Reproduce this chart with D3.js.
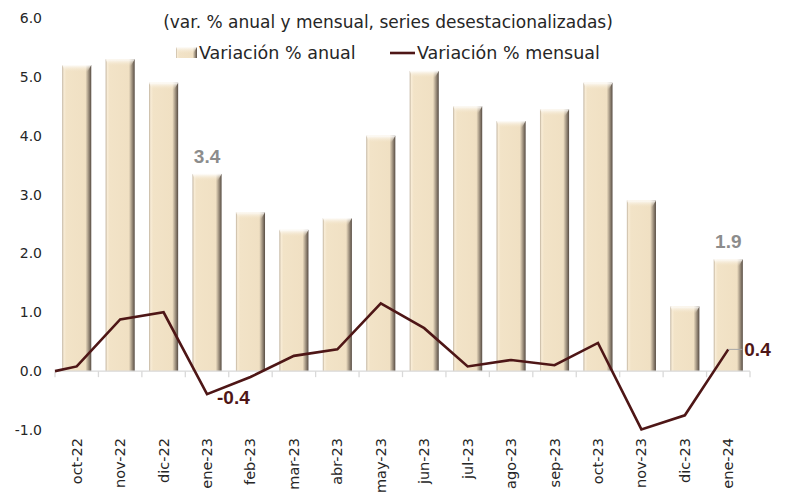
<!DOCTYPE html>
<html>
<head>
<meta charset="utf-8">
<script src="https://cdn.jsdelivr.net/npm/d3@7"></script>
<style>
  body { margin: 0; background: #fff; }
  text { font-family: "DejaVu Sans", sans-serif; }
</style>
</head>
<body>
<script>
// data
var meses = ["oct-22","nov-22","dic-22","ene-23","feb-23","mar-23","abr-23","may-23",
             "jun-23","jul-23","ago-23","sep-23","oct-23","nov-23","dic-23","ene-24"];
var anual = [5.2, 5.3, 4.9, 3.35, 2.7, 2.4, 2.6, 4.0, 5.1, 4.5, 4.25, 4.45, 4.9, 2.9, 1.1, 1.9];
var mensual = [0.08, 0.88, 1.0, -0.39, -0.1, 0.26, 0.37, 1.15, 0.73, 0.08, 0.19, 0.1, 0.48, -0.99, -0.75, 0.37];
var mensualInicio = 0.0;   // the line starts at the axis on the left
var yTicks = [-1, 0, 1, 2, 3, 4, 5, 6];
var titulo = "(var. % anual y mensual, series desestacionalizadas)";
var leyenda = ["Variación % anual", "Variación % mensual"];
var etiquetasAnual = ["ene-23", "ene-24"];
var etiquetasMensual = ["ene-23", "ene-24"];

var W = 786, H = 492;
var maroon = "#4e1616";
var fmt = d3.formatLocale({decimal: ".", thousands: ",", grouping: [3], currency: ["", ""], minus: "-"}).format(".1f");

var svg = d3.select("body").append("svg").attr("width", W).attr("height", H);

var x = d3.scaleBand().domain(meses).range([55, 750]).paddingInner(0.33).paddingOuter(0.165);
var y = d3.scaleLinear().domain([-1, 6]).range([430, 18]);

// gradients for the bevelled bars
var defs = svg.append("defs");
var hg = defs.append("linearGradient").attr("id", "hg").attr("x1", 0).attr("x2", 1).attr("y1", 0).attr("y2", 0);
[[0, "#bfb19c"], [0.06, "#f8ecd6"], [0.14, "#f2e3c7"], [0.8, "#f0e0c3"], [0.88, "#b3a590"], [1, "#574c43"]].forEach(function (s) {
  hg.append("stop").attr("offset", s[0]).attr("stop-color", s[1]);
});
var tg = defs.append("linearGradient").attr("id", "tg").attr("x1", 0).attr("x2", 0).attr("y1", 0).attr("y2", 1);
[[0, "#ffffff", 0.95], [1, "#f2e3c7", 0]].forEach(function (s) {
  tg.append("stop").attr("offset", s[0]).attr("stop-color", s[1]).attr("stop-opacity", s[2]);
});

function bevelBar(g, bx, by, bw, bh) {
  g.append("rect").attr("x", bx).attr("y", by).attr("width", bw).attr("height", bh).attr("fill", "url(#hg)");
  var t = Math.min(7, bh);
  g.append("polygon")
    .attr("points", [[bx, by], [bx + bw, by], [bx + bw - 4, by + t], [bx + 3, by + t]].map(function (p) { return p.join(","); }).join(" "))
    .attr("fill", "url(#tg)");
}

// bars
var bars = svg.append("g");
meses.forEach(function (m, i) {
  var g = bars.append("g");
  bevelBar(g, x(m), y(anual[i]), x.bandwidth(), y(0) - y(anual[i]));
});

// x axis line + ticks at category boundaries
var axisG = svg.append("g");
axisG.append("line").attr("x1", x.range()[0]).attr("x2", x.range()[1])
  .attr("y1", y(0)).attr("y2", y(0)).attr("stroke", "#d9d9d9").attr("stroke-width", 1.3);
var bounds = meses.map(function (m) { return x(m) - x.step() * x.paddingInner() / 2; }).concat([x.range()[1]]);
axisG.selectAll("line.tk").data(bounds).enter().append("line").attr("class", "tk")
  .attr("x1", function (d) { return d; }).attr("x2", function (d) { return d; })
  .attr("y1", y(0)).attr("y2", y(0) + 6).attr("stroke", "#d9d9d9").attr("stroke-width", 1.3);

// x labels rotated
svg.append("g").selectAll("text").data(meses).enter().append("text")
  .attr("transform", function (d) { return "translate(" + (x(d) + x.bandwidth() / 2 + 5) + "," + 438 + ") rotate(-90)"; })
  .attr("text-anchor", "end").attr("font-size", 14.5).attr("fill", "#262626")
  .text(function (d) { return d; });

// y axis
var yAxis = svg.append("g").attr("transform", "translate(42,0)")
  .call(d3.axisLeft(y).tickValues(yTicks).tickSize(0).tickPadding(0).tickFormat(fmt));
yAxis.select(".domain").remove();
yAxis.selectAll("text").attr("font-size", 14).attr("fill", "#262626")
  .attr("font-family", "'DejaVu Sans', sans-serif");

// monthly line
var pts = [[x.range()[0], mensualInicio]].concat(meses.map(function (m, i) {
  return [x(m) + x.bandwidth() / 2, mensual[i]];
}));
svg.append("path").datum(pts)
  .attr("d", d3.line().x(function (d) { return d[0]; }).y(function (d) { return y(d[1]); }))
  .attr("fill", "none").attr("stroke", maroon).attr("stroke-width", 2.6).attr("stroke-linejoin", "miter");

// data labels
var labFont = "'Liberation Sans', Arial, sans-serif";
etiquetasAnual.forEach(function (m) {
  var i = meses.indexOf(m);
  svg.append("text").attr("x", x(m) + x.bandwidth() / 2).attr("y", y(anual[i]) - 11)
    .attr("text-anchor", "middle").attr("font-size", 19).attr("font-weight", "bold").attr("fill", "#8c8c8c")
    .style("font-family", labFont).text(fmt(anual[i]));
});
(function () {
  var i = meses.indexOf(etiquetasMensual[0]);
  var cx = x(meses[i]) + x.bandwidth() / 2;
  svg.append("text").attr("x", cx + 10).attr("y", y(mensual[i]) + 10)
    .attr("font-size", 19).attr("font-weight", "bold").attr("fill", maroon)
    .style("font-family", labFont).text(fmt(mensual[i]));
  var j = meses.indexOf(etiquetasMensual[1]);
  var cj = x(meses[j]) + x.bandwidth() / 2;
  svg.append("line").attr("x1", cj).attr("x2", cj + 14).attr("y1", y(mensual[j])).attr("y2", y(mensual[j]))
    .attr("stroke", "#a6a6a6").attr("stroke-width", 1);
  svg.append("text").attr("x", cj + 16).attr("y", y(mensual[j]) + 7)
    .attr("font-size", 19).attr("font-weight", "bold").attr("fill", maroon)
    .style("font-family", labFont).text(fmt(mensual[j]));
})();

// title
svg.append("text").attr("x", 388).attr("y", 28).attr("text-anchor", "middle")
  .attr("font-size", 17).attr("fill", "#262626").text(titulo);

// legend
var lg = svg.append("g");
bevelBar(lg, 176, 47, 21, 11);
lg.append("text").attr("x", 199).attr("y", 59).attr("font-size", 17.5).attr("fill", "#262626").text(leyenda[0]);
lg.append("line").attr("x1", 390).attr("x2", 415).attr("y1", 53).attr("y2", 53).attr("stroke", maroon).attr("stroke-width", 2.6);
lg.append("text").attr("x", 417).attr("y", 59).attr("font-size", 17.5).attr("fill", "#262626").text(leyenda[1]);
</script>
</body>
</html>
